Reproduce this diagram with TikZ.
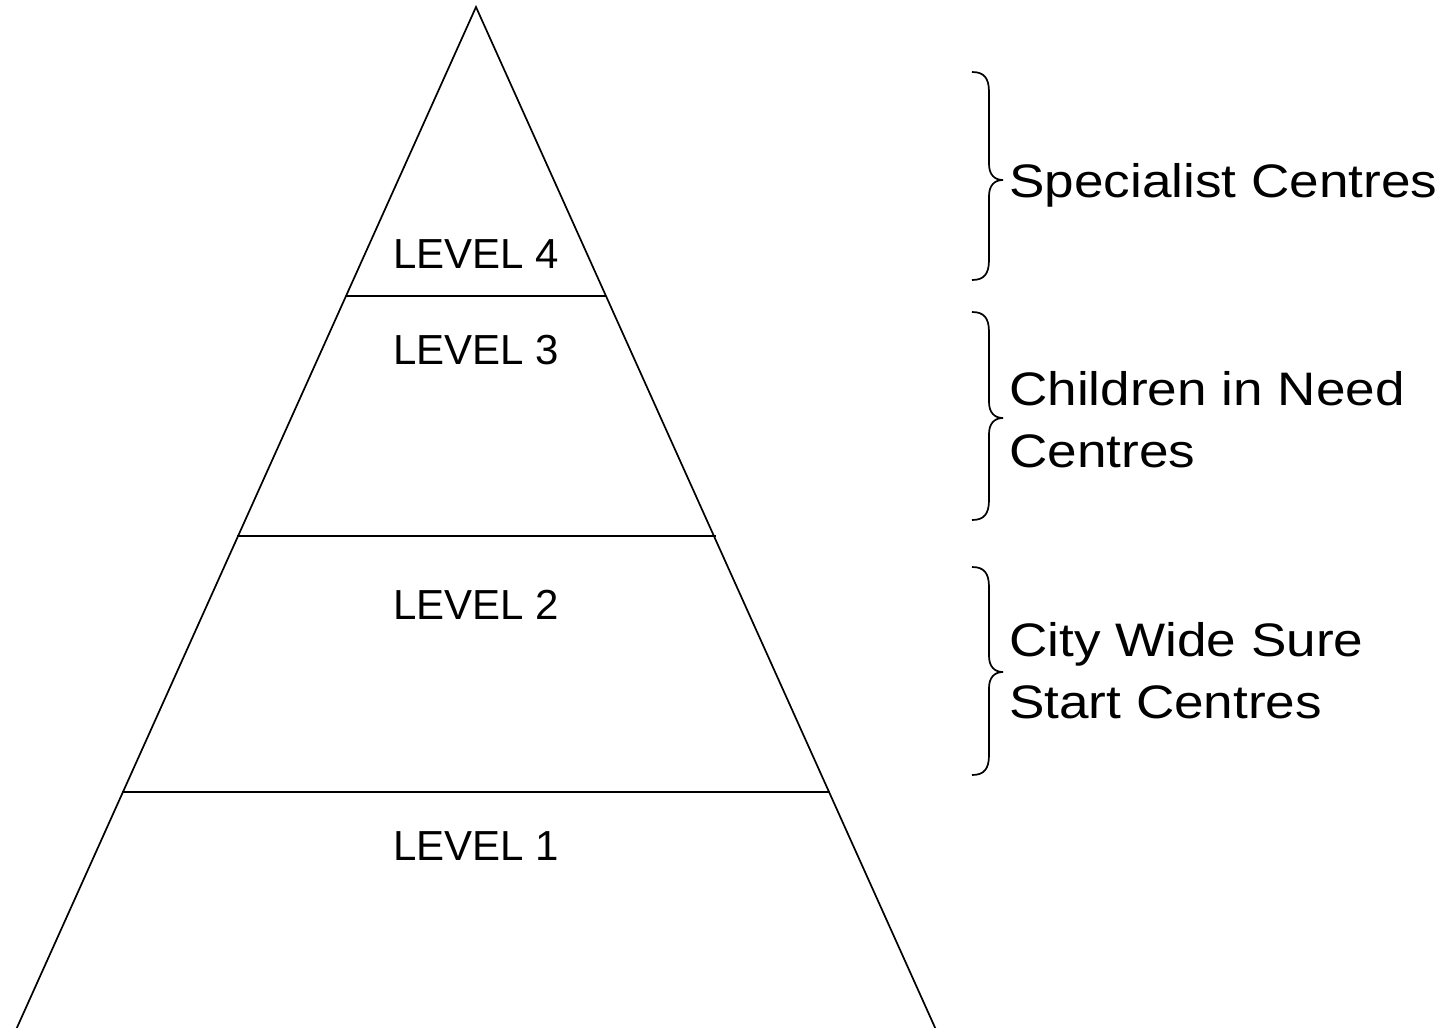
\documentclass[tikz,border=0pt]{standalone}
\usepackage{fontspec}
\setmainfont{Liberation Sans}
\newfontfamily\bigfont[FakeStretch=1.13]{Liberation Sans}
\begin{document}
\begin{tikzpicture}[x=1pt,y=-1pt,
  edge/.style={line width=1.7pt,black},
  brc/.style={line width=1.7pt,black},
  lvl/.style={anchor=base,inner sep=0pt,font=\fontsize{42}{48}\selectfont},
  cat/.style={anchor=base west,inner sep=0pt,align=left,font=\bigfont\fontsize{47}{62}\selectfont}]
\useasboundingbox (0,0) rectangle (1444,1028);
% pyramid
\coordinate (apex) at (476,7);
\coordinate (bl) at (15,1032);
\coordinate (br) at (937,1032);
\draw[edge] (bl) -- (apex) -- (br);
\coordinate (l4) at (346,296); \coordinate (r4) at (606,296);
\coordinate (l3) at (237,536); \coordinate (r3) at (716,536);
\coordinate (l2) at (122,792); \coordinate (r2) at (830,792);
\draw[edge] (l4) -- (r4);
\draw[edge] (l3) -- (r3);
\draw[edge] (l2) -- (r2);
% level labels
\node[lvl] (t4) at (476,268) {LEVEL 4};
\node[lvl] (t3) at (476,364) {LEVEL 3};
\node[lvl] (t2) at (476,619) {LEVEL 2};
\node[lvl] (t1) at (476,860) {LEVEL 1};
% braces
\foreach \a/\m/\b in {72/180/280, 312/418/520, 567/672/775}{
  \draw[brc] (972,\a) .. controls (984,\a) and (989,\a+6) .. (989,\a+20)
    -- (989,\m-16) .. controls (989,\m-6) and (994,\m) .. (1003,\m)
    .. controls (994,\m) and (989,\m+6) .. (989,\m+16)
    -- (989,\b-20) .. controls (989,\b-6) and (984,\b) .. (972,\b);
}
% category labels
\node[cat] (c4) at (1009,197) {Specialist Centres};
\node[cat] (c3) at (1009,467) {Children in Need\\Centres};
\node[cat] (c2) at (1009,718) {City Wide Sure\\Start Centres};
\end{tikzpicture}
\end{document}
